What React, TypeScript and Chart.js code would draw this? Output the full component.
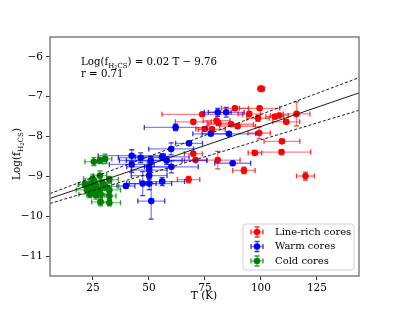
import React, { useEffect, useRef } from 'react';
import { Chart, registerables } from 'chart.js';
Chart.register(...registerables);

// Line-rich cores
const redT = [100.1, 115.9, 99.4, 88.4, 73.8, 94.8, 98.7, 106.2, 108.2, 111.3, 99.2, 109.4, 89.6, 86.7, 80.2, 69.8, 78.1, 74.9, 69.8, 97.3, 109.2, 80.7, 70.8, 92.4, 119.9, 67.7, 81.0];
const redV = [-6.80, -7.43, -7.29, -7.29, -7.44, -7.43, -7.54, -7.50, -7.47, -7.63, -7.91, -8.12, -7.74, -7.69, -7.60, -7.63, -7.82, -7.81, -8.43, -8.41, -8.39, -8.59, -8.59, -8.85, -8.99, -9.08, -7.66];
const redXErr = [1.5, 6, 9, 6, 18, 5, 5, 4, 4, 6, 5, 8, 8, 10, 6, 8, 6, 4, 4, 3, 13, 10, 5, 5, 4, 5, 5];
const redYErr = [0.07, 0.3, 0.05, 0.05, 0.05, 0.05, 0.08, 0.05, 0.05, 0.05, 0.15, 0.05, 0.05, 0.05, 0.05, 0.05, 0.05, 0.05, 0.05, 0.04, 0.06, 0.22, 0.04, 0.08, 0.1, 0.08, 0.05];

// Warm cores
const blueT = [80.7, 84.5, 61.9, 77.6, 85.7, 67.9, 59.9, 87.4, 55.9, 57.9, 60.0, 50.8, 46.3, 42.3, 42.3, 50.1, 50.1, 50.1, 55.9, 47.2, 39.7, 51.0, 50.1];
const blueV = [-7.39, -7.39, -7.77, -7.93, -7.93, -8.17, -8.31, -8.67, -8.51, -8.60, -8.76, -8.60, -8.53, -8.48, -8.70, -8.84, -8.98, -9.18, -9.13, -9.18, -9.24, -9.62, -8.76];
const blueXErr = [6, 8, 14, 8, 12, 6, 10, 8, 12, 18, 12, 14, 10, 15, 10, 8, 8, 10, 10, 6, 4, 6, 10];
const blueYErr = [0.1, 0.12, 0.08, 0.04, 0.04, 0.05, 0.15, 0.05, 0.08, 0.1, 0.15, 0.1, 0.12, 0.15, 0.2, 0.2, 0.1, 0.15, 0.1, 0.3, 0.05, 0.45, 0.1];

// Cold cores
const greenT = [25.4, 28.1, 30.4, 24.8, 28.1, 25.5, 23.7, 26.3, 29.3, 32.3, 25.1, 27.8, 32.3, 23.7, 26.3, 28.4, 32.3, 28.4, 32.3, 22.5, 21.4, 30.5];
const greenV = [-8.63, -8.60, -8.56, -9.06, -8.98, -9.12, -9.20, -9.24, -9.18, -9.08, -9.33, -9.34, -9.34, -9.45, -9.47, -9.45, -9.49, -9.64, -9.66, -9.34, -9.20, -9.25];
const greenXErr = [4, 3, 3, 4, 3, 4, 5, 5, 4, 4, 4, 4, 5, 5, 4, 3, 3, 4, 5, 5, 3, 6];
const greenYErr = [0.1, 0.08, 0.12, 0.1, 0.12, 0.08, 0.08, 0.1, 0.08, 0.08, 0.08, 0.08, 0.08, 0.08, 0.1, 0.08, 0.1, 0.1, 0.08, 0.08, 0.06, 0.1];

// Fit line and bounds (endpoints)
const fitT = [5.8, 143.8];
const fitMid = [-9.554, -6.904];
const fitUpper = [-9.43, -6.52];
const fitLower = [-9.68, -7.34];

const xTicks = [25, 50, 75, 100, 125];
const yTicks = [-11, -10, -9, -8, -7, -6];
const legendLabels = ['Line-rich cores', 'Warm cores', 'Cold cores'];

const SERIF = '"DejaVu Serif", serif';

const toPts = (xs: number[], ys: number[]) => xs.map((x, i) => ({ x, y: ys[i] }));

function drawParts(ctx: CanvasRenderingContext2D, x: number, y: number, parts: { t: string; size: number; dy: number }[], measureOnly = false) {
  let cx = x;
  for (const p of parts) {
    ctx.font = `${p.size}px ${SERIF}`;
    if (!measureOnly) ctx.fillText(p.t, cx, y + p.dy);
    cx += ctx.measureText(p.t).width;
  }
  return cx - x;
}

function logParts(main: number) {
  return [
    { t: 'Log(f', size: main, dy: 0 },
    { t: 'H', size: main * 0.68, dy: 2.5 },
    { t: '2', size: main * 0.5, dy: 3.5 },
    { t: 'CS', size: main * 0.68, dy: 2.5 },
    { t: ')', size: main, dy: 0 },
  ];
}

const errorBarPlugin = {
  id: 'errbars',
  beforeDatasetDraw(chart: any, args: any) {
    const ds = chart.data.datasets[args.index];
    if (!ds.errX) return;
    const xs = chart.scales.x, ys = chart.scales.y;
    const ctx = chart.ctx as CanvasRenderingContext2D;
    ctx.save();
    ctx.lineWidth = 1.3;
    const cap = 2.5;
    ds.data.forEach((p: any, i: number) => {
      const px = xs.getPixelForValue(p.x), py = ys.getPixelForValue(p.y);
      const x0 = xs.getPixelForValue(p.x - ds.errX[i]), x1 = xs.getPixelForValue(p.x + ds.errX[i]);
      const y0 = ys.getPixelForValue(p.y - ds.errY[i]), y1 = ys.getPixelForValue(p.y + ds.errY[i]);
      ctx.strokeStyle = ds.barColor;
      ctx.beginPath();
      ctx.moveTo(x0, py); ctx.lineTo(x1, py);
      ctx.moveTo(px, y0); ctx.lineTo(px, y1);
      ctx.stroke();
      ctx.strokeStyle = ds.capColor;
      ctx.beginPath();
      ctx.moveTo(x0, py - cap); ctx.lineTo(x0, py + cap);
      ctx.moveTo(x1, py - cap); ctx.lineTo(x1, py + cap);
      ctx.moveTo(px - cap, y0); ctx.lineTo(px + cap, y0);
      ctx.moveTo(px - cap, y1); ctx.lineTo(px + cap, y1);
      ctx.stroke();
    });
    ctx.restore();
  },
};

const decorPlugin = {
  id: 'decor',
  afterDraw(chart: any) {
    const ctx = chart.ctx as CanvasRenderingContext2D;
    const a = chart.chartArea;
    ctx.save();
    // frame
    ctx.strokeStyle = '#808080';
    ctx.lineWidth = 1.5;
    ctx.strokeRect(a.left, a.top, a.right - a.left, a.bottom - a.top);

    ctx.fillStyle = '#000';
    ctx.textBaseline = 'alphabetic';
    // annotation
    const annY = a.top + 28;
    const w = drawParts(ctx, a.left + 31, annY, logParts(10.2));
    ctx.font = `10.2px ${SERIF}`;
    ctx.fillText(' = 0.02 T \u2212 9.76', a.left + 31 + w, annY);
    ctx.fillText('r = 0.71', a.left + 31, annY + 12);

    // x title
    ctx.textAlign = 'center';
    ctx.font = `10.5px ${SERIF}`;
    ctx.fillText('T (K)', 204, 299);
    ctx.textAlign = 'left';

    // y title
    ctx.save();
    ctx.translate(20, 154);
    ctx.rotate(-Math.PI / 2);
    const tw = drawParts(ctx, 0, 0, logParts(10.5), true);
    drawParts(ctx, -tw / 2, 0, logParts(10.5));
    ctx.restore();

    // legend
    const lx = 243, ly = 224, lw = 111, lh = 46;
    ctx.beginPath();
    (ctx as any).roundRect(lx, ly, lw, lh, 3);
    ctx.fillStyle = 'rgba(255,255,255,0.85)';
    ctx.fill();
    ctx.strokeStyle = '#d0d0d0';
    ctx.lineWidth = 1;
    ctx.stroke();
    const sets = chart.data.datasets.filter((d: any) => d.errX);
    sets.forEach((d: any, i: number) => {
      const cy = 232 + i * 14.5;
      const cx = 257;
      ctx.lineWidth = 1.3;
      ctx.strokeStyle = d.barColor;
      ctx.beginPath();
      ctx.moveTo(cx - 6, cy); ctx.lineTo(cx + 6, cy);
      ctx.moveTo(cx, cy - 5); ctx.lineTo(cx, cy + 5);
      ctx.stroke();
      ctx.strokeStyle = d.capColor;
      ctx.beginPath();
      ctx.moveTo(cx - 6, cy - 2.5); ctx.lineTo(cx - 6, cy + 2.5);
      ctx.moveTo(cx + 6, cy - 2.5); ctx.lineTo(cx + 6, cy + 2.5);
      ctx.moveTo(cx - 2.5, cy - 5); ctx.lineTo(cx + 2.5, cy - 5);
      ctx.moveTo(cx - 2.5, cy + 5); ctx.lineTo(cx + 2.5, cy + 5);
      ctx.stroke();
      ctx.fillStyle = d.backgroundColor;
      ctx.beginPath();
      ctx.arc(cx, cy, 3.2, 0, Math.PI * 2);
      ctx.fill();
      ctx.fillStyle = '#000';
      ctx.font = `10px ${SERIF}`;
      ctx.textBaseline = 'middle';
      ctx.fillText(d.label, 275, cy);
      ctx.textBaseline = 'alphabetic';
    });
    ctx.restore();
  },
};

export default function App() {
  const ref = useRef<HTMLCanvasElement>(null);
  useEffect(() => {
    const canvas = ref.current!;
    const line = (ys: number[], dash: number[]) => ({
      type: 'line' as const,
      data: toPts(fitT, ys),
      borderColor: '#000',
      borderWidth: 0.9,
      borderDash: dash,
      pointRadius: 0,
      fill: false,
      order: 0,
    });
    const scatter = (label: string, xs: number[], ys: number[], ex: number[], ey: number[], color: string, bar: string, cap: string, order: number) => ({
      type: 'scatter' as const,
      label,
      data: toPts(xs, ys),
      backgroundColor: color,
      borderWidth: 0,
      pointRadius: 3.3,
      errX: ex,
      errY: ey,
      barColor: bar,
      capColor: cap,
      order,
    });
    const chart = new Chart(canvas, {
      type: 'scatter',
      data: {
        datasets: [
          scatter(legendLabels[0], redT, redV, redXErr, redYErr, '#ff0000', 'rgba(255,0,0,0.5)', 'rgba(255,0,0,0.8)', 3),
          scatter(legendLabels[1], blueT, blueV, blueXErr, blueYErr, '#0000ff', 'rgba(0,0,255,0.5)', 'rgba(0,0,255,0.8)', 2),
          scatter(legendLabels[2], greenT, greenV, greenXErr, greenYErr, '#008000', 'rgba(0,128,0,0.5)', 'rgba(0,128,0,0.8)', 1),
          line(fitMid, []),
          line(fitUpper, [3, 2]),
          line(fitLower, [3, 2]),
        ] as any,
      },
      options: {
        responsive: false,
        animation: false,
        devicePixelRatio: 1,
        layout: { padding: { left: 0, right: 40, top: 37, bottom: 0 } },
        plugins: { legend: { display: false }, tooltip: { enabled: false } },
        scales: {
          x: {
            type: 'linear',
            min: 5.8,
            max: 143.8,
            afterBuildTicks: (s: any) => { s.ticks = xTicks.map((v) => ({ value: v })); },
            afterFit: (s: any) => { s.height = 34; },
            grid: { display: true, drawOnChartArea: false, drawTicks: true, tickLength: 4, tickColor: '#333', lineWidth: 1 },
            border: { display: false },
            ticks: { color: '#000', font: { family: SERIF, size: 10.5 }, padding: 2, maxRotation: 0, autoSkip: false, callback: (v: any) => String(v) },
          },
          y: {
            type: 'linear',
            min: -11.5,
            max: -5.5,
            afterBuildTicks: (s: any) => { s.ticks = yTicks.map((v) => ({ value: v })); },
            afterFit: (s: any) => { s.width = 50; },
            grid: { display: true, drawOnChartArea: false, drawTicks: true, tickLength: 4, tickColor: '#333', lineWidth: 1 },
            border: { display: false },
            ticks: { color: '#000', font: { family: SERIF, size: 10.5 }, padding: 3, autoSkip: false, callback: (v: any) => (v < 0 ? '\u2212' + Math.abs(v) : String(v)) },
          },
        },
      } as any,
      plugins: [errorBarPlugin, decorPlugin],
    });
    return () => chart.destroy();
  }, []);
  return (
    <div style={{ position: 'absolute', left: 0, top: 0, width: 399, height: 310, background: '#fff' }}>
      <canvas ref={ref} width={399} height={310} style={{ width: 399, height: 310 }} />
    </div>
  );
}
